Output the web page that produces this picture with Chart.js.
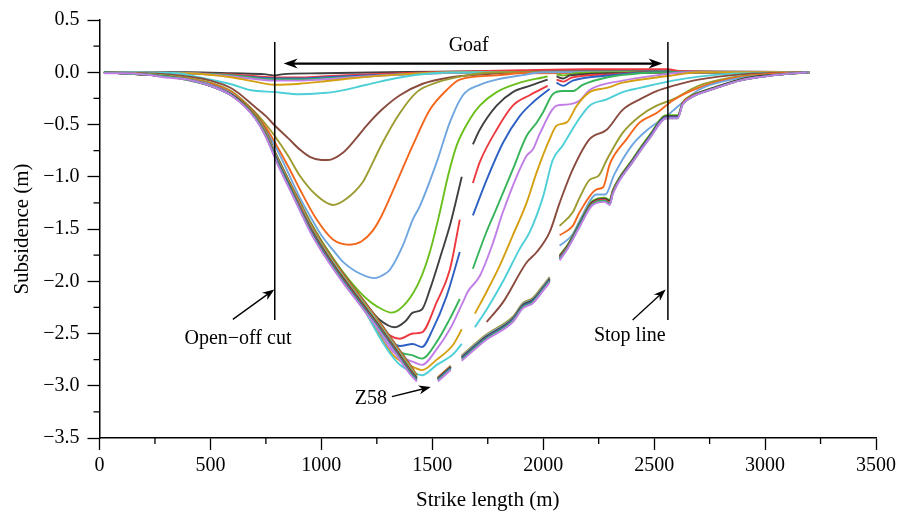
<!DOCTYPE html>
<html>
<head>
<meta charset="utf-8">
<script src="https://cdn.jsdelivr.net/npm/chart.js@4.4.0/dist/chart.umd.min.js"></script>
<style>
  html, body { margin: 0; padding: 0; background: #fff; }
</style>
</head>
<body>
<canvas id="subs" width="900" height="513"></canvas>
<script>
// axis ticks
var xTicks = [0, 500, 1000, 1500, 2000, 2500, 3000, 3500];
var yTicks = [0.5, 0.0, -0.5, -1.0, -1.5, -2.0, -2.5, -3.0, -3.5];

// colour of each profile, in drawing order
var seriesColors = [
  'dgray', 'red', 'blue', 'green', 'violet', 'gold', 'cyan',
  'brown', 'olive', 'orange', 'lblue', 'lime', 'dgray', 'red', 'blue', 'green', 'violet', 'gold', 'cyan',
  'brown', 'olive', 'orange', 'lblue', 'lime', 'dgray', 'red', 'blue', 'green', 'violet'
];

// subsidence profiles [strike length m, subsidence m]; null = missing station
var p01 = [[20,0],[400,0],[600,-0.01],[750,-0.02],[790,-0.03],[820,-0.02],[1000,-0.01],[1300,0],[1800,0.01],[2500,0.01],[3200,0]];
var p02 = [[20,0],[400,-0.01],[600,-0.02],[790,-0.05],[900,-0.05],[1000,-0.04],[1200,-0.02],[1500,0],[1900,0.02],[2200,0.03],[2560,0.03],[2620,0.01],[3200,0]];
var p03 = [[20,0],[400,-0.01],[600,-0.03],[790,-0.06],[900,-0.06],[1000,-0.05],[1200,-0.03],[1500,-0.01],[1800,0],[3200,0]];
var p04 = [[20,0],[400,-0.01],[600,-0.03],[790,-0.07],[900,-0.07],[1000,-0.06],[1200,-0.04],[1500,-0.01],[1800,0],[3200,0]];
var p05 = [[20,0],[400,-0.01],[600,-0.04],[790,-0.08],[900,-0.08],[1000,-0.07],[1200,-0.04],[1500,-0.01],[1800,0],[3200,0]];
var p06 = [[20,0],[400,-0.01],[600,-0.05],[700,-0.09],[790,-0.12],[903,-0.11],[1000,-0.09],[1128,-0.06],[1354,-0.02],[1600,0],[3200,0]];
var p07 = [[20,0],[350,-0.01],[453,-0.05],[602,-0.12],[678,-0.17],[790,-0.19],[903,-0.21],[1000,-0.2],[1052,-0.19],[1204,-0.12],[1354,-0.05],[1500,-0.01],[1700,0],[3200,0]];
var p08 = [[20,0],[300,-0.02],[500,-0.08],[600,-0.16],[700,-0.33],[750,-0.42],[790,-0.51],[850,-0.63],[903,-0.74],[948,-0.81],[1000,-0.84],[1030,-0.84],[1097,-0.77],[1150,-0.65],[1204,-0.51],[1277,-0.35],[1354,-0.22],[1457,-0.11],[1579,-0.05],[1728,-0.02],[1900,0],[3200,0]];
var p09 = [[20,0],[300,-0.03],[500,-0.1],[600,-0.19],[700,-0.38],[750,-0.5],[790,-0.61],[850,-0.8],[903,-0.99],[979,-1.18],[1052,-1.27],[1113,-1.21],[1187,-1.05],[1200,-1.0],[1277,-0.67],[1354,-0.39],[1430,-0.19],[1518,-0.1],[1653,-0.03],[1800,0],[3200,0]];
var p10 = [[20,0],[300,-0.04],[500,-0.11],[600,-0.2],[700,-0.4],[750,-0.53],[790,-0.67],[850,-0.9],[903,-1.12],[979,-1.41],[1052,-1.6],[1128,-1.65],[1180,-1.62],[1230,-1.52],[1270,-1.38],[1340,-1.05],[1412,-0.7],[1489,-0.36],[1565,-0.17],[1624,-0.07],[1790,-0.03],[1900,-0.01],[3200,0]];
var p11 = [[20,0],[300,-0.04],[500,-0.12],[600,-0.21],[700,-0.41],[750,-0.56],[800,-0.74],[850,-0.96],[903,-1.2],[950,-1.38],[1000,-1.56],[1052,-1.7],[1100,-1.82],[1150,-1.9],[1200,-1.95],[1240,-1.97],[1270,-1.95],[1309,-1.89],[1367,-1.66],[1412,-1.41],[1444,-1.28],[1520,-0.86],[1579,-0.48],[1638,-0.22],[1714,-0.12],[1790,-0.07],[1900,-0.03],[2000,0],[3200,0]];
var p12 = [[20,0],[300,-0.04],[500,-0.12],[600,-0.22],[700,-0.42],[750,-0.59],[800,-0.8],[850,-1.02],[900,-1.23],[950,-1.43],[1000,-1.61],[1050,-1.77],[1100,-1.92],[1150,-2.05],[1200,-2.16],[1250,-2.24],[1318,-2.3],[1385,-2.2],[1444,-1.99],[1489,-1.72],[1534,-1.34],[1570,-1.0],[1610,-0.7],[1669,-0.45],[1714,-0.32],[1790,-0.19],[1894,-0.1],[1998,-0.05],[2020,-0.04],[2040,null],[2060,-0.02],[2090,-0.03],[2150,-0.01],[2400,0],[3200,0]];
var p13 = [[20,0],[300,-0.04],[500,-0.12],[600,-0.22],[700,-0.43],[750,-0.6],[800,-0.81],[850,-1.03],[900,-1.25],[950,-1.46],[1000,-1.64],[1050,-1.8],[1100,-1.95],[1150,-2.09],[1200,-2.22],[1264,-2.37],[1331,-2.44],[1380,-2.38],[1412,-2.3],[1453,-2.27],[1489,-2.08],[1543,-1.72],[1579,-1.47],[1633,-1.0],[1655,null],[1683,-0.69],[1714,-0.55],[1790,-0.32],[1863,-0.19],[1939,-0.13],[2020,-0.07],[2040,null],[2060,-0.04],[2090,-0.06],[2120,-0.03],[2300,-0.01],[2500,0],[3200,0]];
var p14 = [[20,0],[300,-0.04],[500,-0.12],[600,-0.22],[700,-0.43],[750,-0.6],[800,-0.82],[850,-1.04],[900,-1.26],[950,-1.47],[1000,-1.65],[1050,-1.81],[1100,-1.97],[1150,-2.11],[1200,-2.25],[1264,-2.43],[1310,-2.52],[1354,-2.55],[1412,-2.5],[1453,-2.49],[1520,-2.2],[1579,-1.89],[1624,-1.41],[1650,null],[1683,-1.06],[1714,-0.86],[1790,-0.55],[1863,-0.32],[1939,-0.22],[2020,-0.13],[2040,null],[2060,-0.07],[2090,-0.09],[2130,-0.05],[2300,-0.02],[2500,0],[3200,0]];
var p15 = [[20,0],[300,-0.04],[500,-0.12],[600,-0.22],[700,-0.43],[750,-0.61],[800,-0.83],[850,-1.05],[900,-1.27],[950,-1.48],[1000,-1.66],[1050,-1.82],[1100,-1.98],[1150,-2.12],[1200,-2.27],[1264,-2.47],[1320,-2.59],[1354,-2.62],[1412,-2.6],[1453,-2.63],[1502,-2.46],[1565,-2.14],[1624,-1.72],[1650,null],[1683,-1.37],[1745,-1.03],[1820,-0.67],[1894,-0.42],[1953,-0.29],[2029,-0.16],[2045,null],[2060,-0.1],[2090,-0.13],[2133,-0.08],[2300,-0.03],[2500,0],[3200,0]];
var p16 = [[20,0],[300,-0.04],[500,-0.13],[600,-0.22],[700,-0.43],[750,-0.61],[800,-0.84],[850,-1.06],[900,-1.28],[950,-1.49],[1000,-1.67],[1050,-1.83],[1100,-1.99],[1150,-2.13],[1200,-2.28],[1264,-2.5],[1320,-2.63],[1354,-2.68],[1412,-2.71],[1453,-2.74],[1520,-2.58],[1579,-2.36],[1624,-2.17],[1650,null],[1683,-1.88],[1740,-1.55],[1790,-1.3],[1863,-0.93],[1925,-0.61],[1971,-0.48],[2000,-0.38],[2043,-0.21],[2088,-0.18],[2133,-0.18],[2178,-0.12],[2286,-0.05],[2435,-0.01],[2600,0],[3200,0]];
var p17 = [[20,0],[300,-0.04],[500,-0.13],[600,-0.22],[700,-0.43],[750,-0.61],[800,-0.84],[850,-1.06],[900,-1.28],[950,-1.49],[1000,-1.68],[1050,-1.84],[1100,-2.0],[1150,-2.14],[1200,-2.29],[1264,-2.52],[1320,-2.67],[1354,-2.72],[1412,-2.77],[1453,-2.8],[1520,-2.65],[1579,-2.46],[1638,-2.2],[1660,-2.1],[1714,-1.95],[1774,-1.63],[1818,-1.34],[1925,-0.8],[1953,-0.74],[1984,-0.59],[2061,-0.32],[2104,-0.31],[2164,-0.27],[2209,-0.17],[2358,-0.08],[2511,-0.03],[2650,0],[3200,0]];
var p18 = [[20,0],[300,-0.04],[500,-0.13],[600,-0.22],[700,-0.43],[750,-0.61],[800,-0.85],[850,-1.07],[900,-1.29],[950,-1.5],[1000,-1.68],[1050,-1.84],[1100,-2.0],[1150,-2.15],[1200,-2.3],[1264,-2.53],[1320,-2.7],[1354,-2.76],[1412,-2.82],[1453,-2.85],[1520,-2.75],[1593,-2.61],[1633,-2.46],[1660,null],[1692,-2.31],[1745,-2.1],[1804,-1.85],[1863,-1.56],[1925,-1.25],[1970,-0.96],[2029,-0.64],[2061,-0.51],[2106,-0.48],[2151,-0.32],[2209,-0.19],[2286,-0.15],[2358,-0.1],[2511,-0.05],[2584,-0.03],[2700,0],[3200,0]];
var p19 = [[20,0],[300,-0.04],[500,-0.13],[600,-0.22],[700,-0.43],[750,-0.61],[800,-0.85],[850,-1.07],[900,-1.29],[950,-1.5],[1000,-1.69],[1050,-1.85],[1100,-2.01],[1150,-2.15],[1200,-2.3],[1264,-2.54],[1320,-2.72],[1354,-2.8],[1412,-2.87],[1453,-2.9],[1520,-2.8],[1593,-2.7],[1633,-2.6],[1660,null],[1692,-2.44],[1745,-2.27],[1819,-2.0],[1894,-1.69],[1939,-1.53],[1998,-1.2],[2043,-0.84],[2088,-0.7],[2151,-0.48],[2209,-0.32],[2286,-0.26],[2358,-0.19],[2435,-0.15],[2584,-0.08],[2800,-0.02],[3200,0]];
var p20 = [[20,0],[100,-0.01],[200,-0.02],[300,-0.04],[400,-0.07],[500,-0.12],[600,-0.22],[700,-0.39],[750,-0.56],[800,-0.81],[850,-1.02],[900,-1.23],[950,-1.44],[1000,-1.62],[1050,-1.78],[1100,-1.93],[1150,-2.07],[1200,-2.21],[1250,-2.35],[1300,-2.5],[1350,-2.65],[1400,-2.8],[1430,-2.9],[1460,null],[1745,-2.39],[1819,-2.2],[1925,-1.82],[1971,-1.72],[2029,-1.53],[2074,-1.25],[2133,-0.93],[2209,-0.64],[2286,-0.55],[2358,-0.36],[2435,-0.26],[2511,-0.18],[2584,-0.13],[2700,-0.07],[2900,-0.02],[3200,0]];
var p21 = [[20,0],[100,-0.01],[200,-0.02],[300,-0.04],[400,-0.07],[500,-0.12],[600,-0.22],[700,-0.4],[750,-0.57],[800,-0.82],[850,-1.03],[900,-1.24],[950,-1.45],[1000,-1.63],[1050,-1.79],[1100,-1.94],[1150,-2.08],[1200,-2.22],[1250,-2.36],[1300,-2.51],[1350,-2.66],[1400,-2.81],[1430,-2.9],[1460,null],[1525,-2.92],[1583,-2.81],[1610,null],[1633,-2.71],[1714,-2.56],[1744,-2.51],[1863,-2.34],[1908,-2.21],[1953,-2.16],[2000,-2.04],[2029,-1.96],[2050,null],[2074,-1.47],[2133,-1.34],[2164,-1.2],[2209,-1.03],[2250,-0.99],[2286,-0.84],[2358,-0.58],[2435,-0.42],[2511,-0.32],[2584,-0.26],[2700,-0.13],[2850,-0.05],[3000,-0.02],[3200,0]];
var p22 = [[20,0],[100,-0.01],[200,-0.02],[300,-0.04],[400,-0.07],[500,-0.12],[600,-0.22],[700,-0.4],[750,-0.58],[800,-0.83],[850,-1.04],[900,-1.25],[950,-1.46],[1000,-1.64],[1050,-1.8],[1100,-1.95],[1150,-2.09],[1200,-2.23],[1250,-2.37],[1300,-2.52],[1350,-2.67],[1400,-2.82],[1430,-2.91],[1460,null],[1525,-2.92],[1583,-2.81],[1610,null],[1633,-2.72],[1714,-2.57],[1744,-2.52],[1863,-2.35],[1908,-2.22],[1953,-2.17],[2000,-2.05],[2029,-1.97],[2050,null],[2074,-1.56],[2133,-1.47],[2164,-1.34],[2241,-1.12],[2270,-1.1],[2300,-0.88],[2376,-0.64],[2435,-0.48],[2511,-0.39],[2584,-0.27],[2700,-0.15],[2850,-0.06],[3000,-0.02],[3200,0]];
var p23 = [[20,0],[100,-0.01],[200,-0.02],[300,-0.04],[400,-0.07],[500,-0.12],[600,-0.22],[700,-0.41],[750,-0.58],[800,-0.83],[850,-1.05],[900,-1.26],[950,-1.47],[1000,-1.65],[1050,-1.81],[1100,-1.96],[1150,-2.1],[1200,-2.24],[1250,-2.38],[1300,-2.53],[1350,-2.68],[1400,-2.83],[1430,-2.92],[1460,null],[1525,-2.93],[1583,-2.82],[1610,null],[1633,-2.72],[1714,-2.57],[1744,-2.52],[1863,-2.35],[1908,-2.22],[1953,-2.17],[2000,-2.05],[2029,-1.97],[2050,null],[2074,-1.66],[2133,-1.55],[2164,-1.42],[2241,-1.17],[2280,-1.17],[2320,-0.98],[2400,-0.7],[2470,-0.55],[2556,-0.42],[2600,-0.34],[2700,-0.17],[2850,-0.07],[3000,-0.03],[3200,0]];
var p24 = [[20,0],[100,-0.01],[200,-0.02],[300,-0.04],[400,-0.07],[500,-0.13],[600,-0.22],[700,-0.41],[750,-0.59],[800,-0.84],[850,-1.05],[900,-1.27],[950,-1.48],[1000,-1.66],[1050,-1.82],[1100,-1.97],[1150,-2.11],[1200,-2.25],[1250,-2.39],[1300,-2.54],[1350,-2.69],[1400,-2.84],[1430,-2.92],[1460,null],[1525,-2.93],[1583,-2.82],[1610,null],[1633,-2.73],[1714,-2.58],[1744,-2.53],[1863,-2.36],[1908,-2.23],[1953,-2.18],[2000,-2.06],[2029,-1.98],[2050,null],[2074,-1.75],[2110,-1.65],[2164,-1.44],[2223,-1.23],[2277,-1.2],[2300,-1.22],[2313,-1.13],[2403,-0.83],[2480,-0.6],[2556,-0.41],[2606,-0.41],[2628,-0.29],[2660,-0.23],[2736,-0.17],[2808,-0.12],[2885,-0.07],[2960,-0.04],[3078,-0.02],[3190,0]];
var p25 = [[20,0],[100,-0.01],[200,-0.02],[300,-0.04],[400,-0.07],[500,-0.13],[600,-0.22],[700,-0.42],[750,-0.6],[800,-0.84],[850,-1.06],[900,-1.28],[950,-1.49],[1000,-1.67],[1050,-1.83],[1100,-1.98],[1150,-2.12],[1200,-2.26],[1250,-2.4],[1300,-2.55],[1350,-2.7],[1400,-2.85],[1430,-2.93],[1460,null],[1525,-2.93],[1583,-2.82],[1610,null],[1633,-2.73],[1714,-2.58],[1744,-2.53],[1863,-2.36],[1908,-2.23],[1953,-2.18],[2000,-2.06],[2029,-1.98],[2050,null],[2074,-1.76],[2110,-1.66],[2164,-1.45],[2223,-1.24],[2277,-1.21],[2300,-1.23],[2313,-1.14],[2403,-0.84],[2480,-0.61],[2556,-0.42],[2606,-0.42],[2628,-0.3],[2660,-0.24],[2736,-0.17],[2808,-0.12],[2885,-0.07],[2960,-0.04],[3078,-0.02],[3190,0]];
var p26 = [[20,0],[100,-0.01],[200,-0.02],[300,-0.04],[400,-0.07],[500,-0.13],[600,-0.23],[700,-0.42],[750,-0.6],[800,-0.85],[850,-1.07],[900,-1.28],[950,-1.5],[1000,-1.68],[1050,-1.84],[1100,-1.99],[1150,-2.13],[1200,-2.27],[1250,-2.41],[1300,-2.56],[1350,-2.71],[1400,-2.86],[1430,-2.94],[1460,null],[1525,-2.94],[1583,-2.83],[1610,null],[1633,-2.74],[1714,-2.59],[1744,-2.54],[1863,-2.37],[1908,-2.24],[1953,-2.19],[2000,-2.07],[2029,-1.99],[2050,null],[2074,-1.77],[2110,-1.67],[2164,-1.46],[2223,-1.25],[2277,-1.22],[2300,-1.25],[2313,-1.15],[2403,-0.85],[2480,-0.62],[2556,-0.43],[2606,-0.43],[2628,-0.3],[2660,-0.24],[2736,-0.18],[2808,-0.13],[2885,-0.08],[2960,-0.05],[3078,-0.02],[3190,0]];
var p27 = [[20,0],[100,-0.01],[200,-0.02],[300,-0.04],[400,-0.07],[500,-0.13],[600,-0.23],[700,-0.43],[750,-0.61],[800,-0.85],[850,-1.07],[900,-1.29],[950,-1.51],[1000,-1.69],[1050,-1.85],[1100,-2.0],[1150,-2.14],[1200,-2.28],[1250,-2.42],[1300,-2.57],[1350,-2.72],[1400,-2.87],[1430,-2.94],[1460,null],[1525,-2.94],[1583,-2.83],[1610,null],[1633,-2.74],[1714,-2.59],[1744,-2.54],[1863,-2.37],[1908,-2.24],[1953,-2.19],[2000,-2.07],[2029,-1.99],[2050,null],[2074,-1.78],[2110,-1.68],[2164,-1.46],[2223,-1.26],[2277,-1.23],[2300,-1.26],[2313,-1.16],[2403,-0.85],[2480,-0.62],[2556,-0.43],[2606,-0.43],[2628,-0.31],[2660,-0.25],[2736,-0.18],[2808,-0.13],[2885,-0.08],[2960,-0.05],[3078,-0.02],[3190,0]];
var p28 = [[20,0],[100,-0.01],[200,-0.02],[300,-0.04],[400,-0.07],[500,-0.13],[600,-0.23],[700,-0.43],[750,-0.61],[800,-0.86],[850,-1.08],[900,-1.3],[950,-1.52],[1000,-1.7],[1050,-1.86],[1100,-2.01],[1150,-2.15],[1200,-2.29],[1250,-2.43],[1300,-2.58],[1350,-2.73],[1400,-2.88],[1430,-2.95],[1460,null],[1525,-2.95],[1583,-2.84],[1610,null],[1633,-2.75],[1714,-2.6],[1744,-2.55],[1863,-2.38],[1908,-2.25],[1953,-2.2],[2000,-2.08],[2029,-2.0],[2050,null],[2074,-1.79],[2110,-1.68],[2164,-1.47],[2223,-1.26],[2277,-1.23],[2300,-1.26],[2313,-1.16],[2403,-0.86],[2480,-0.63],[2556,-0.44],[2606,-0.44],[2628,-0.31],[2660,-0.25],[2736,-0.18],[2808,-0.13],[2885,-0.08],[2960,-0.05],[3078,-0.02],[3190,0]];
var p29 = [[20,-0.01],[100,-0.01],[200,-0.02],[300,-0.05],[400,-0.07],[500,-0.13],[600,-0.23],[700,-0.44],[750,-0.62],[800,-0.87],[850,-1.09],[900,-1.31],[950,-1.53],[1000,-1.71],[1050,-1.87],[1100,-2.02],[1150,-2.16],[1200,-2.3],[1250,-2.44],[1300,-2.59],[1350,-2.74],[1400,-2.89],[1430,-2.96],[1460,null],[1525,-2.96],[1583,-2.85],[1610,null],[1633,-2.76],[1714,-2.61],[1744,-2.56],[1863,-2.39],[1908,-2.26],[1953,-2.21],[2000,-2.09],[2029,-2.01],[2050,null],[2074,-1.8],[2110,-1.69],[2164,-1.48],[2223,-1.27],[2277,-1.24],[2300,-1.27],[2313,-1.17],[2403,-0.86],[2480,-0.63],[2556,-0.44],[2606,-0.44],[2628,-0.31],[2660,-0.25],[2736,-0.18],[2808,-0.13],[2885,-0.08],[2960,-0.05],[3078,-0.02],[3190,0]];

var profiles = [p01,p02,p03,p04,p05,p06,p07,p08,p09,p10,p11,p12,p13,p14,p15,p16,p17,p18,p19,p20,p21,p22,p23,p24,p25,p26,p27,p28,p29];

var palette = {
  brown: '#8a4b3f', olive: '#9c9b30', orange: '#f4661b', lblue: '#6fa6df',
  lime: '#6bbf1c', dgray: '#404040', red: '#ec3a40', blue: '#2e60c4',
  green: '#37b45a', violet: '#c17ee6', gold: '#d4a011', cyan: '#4ccfd6'
};

var SERIF = '"Liberation Serif", "DejaVu Serif", serif';

var datasets = profiles.map(function (p, i) {
  return {
    label: 'P' + (i + 1),
    data: p.map(function (q) { return { x: q[0], y: q[1] }; }),
    borderColor: palette[seriesColors[i]],
    borderWidth: 1.9,
    pointRadius: 0,
    fill: false,
    spanGaps: false,
    cubicInterpolationMode: 'monotone',
    order: profiles.length - i
  };
});

function minus(v) {
  return (v < 0 ? '\u2212' : '') + Math.abs(v).toFixed(1);
}

// arrows, face lines, labels and minor ticks
var annotate = {
  id: 'annotate',
  afterDraw: function (chart) {
    var ctx = chart.ctx, xs = chart.scales.x, ys = chart.scales.y;
    var X = function (v) { return xs.getPixelForValue(v); };
    var Y = function (v) { return ys.getPixelForValue(v); };
    ctx.save();
    ctx.strokeStyle = '#000';
    ctx.fillStyle = '#000';

    function head(x1, y1, x2, y2, len, wid) {
      var a = Math.atan2(y2 - y1, x2 - x1);
      ctx.beginPath();
      ctx.moveTo(x2, y2);
      ctx.lineTo(x2 - len * Math.cos(a) + wid * Math.sin(a), y2 - len * Math.sin(a) - wid * Math.cos(a));
      ctx.lineTo(x2 - len * 0.7 * Math.cos(a), y2 - len * 0.7 * Math.sin(a));
      ctx.lineTo(x2 - len * Math.cos(a) - wid * Math.sin(a), y2 - len * Math.sin(a) + wid * Math.cos(a));
      ctx.closePath();
      ctx.fill();
    }
    function arrow(x1, y1, x2, y2, lw, len, wid) {
      var a = Math.atan2(y2 - y1, x2 - x1);
      ctx.lineWidth = lw;
      ctx.beginPath();
      ctx.moveTo(x1, y1);
      ctx.lineTo(x2 - len * 0.6 * Math.cos(a), y2 - len * 0.6 * Math.sin(a));
      ctx.stroke();
      head(x1, y1, x2, y2, len, wid);
    }

    // open-off cut and stop line
    ctx.lineWidth = 1.5;
    [790, 2562].forEach(function (v) {
      ctx.beginPath();
      ctx.moveTo(X(v), Y(0.29));
      ctx.lineTo(X(v), Y(-2.37));
      ctx.stroke();
    });

    // goaf double arrow
    var gy = Y(0.083);
    ctx.lineWidth = 2.2;
    ctx.beginPath();
    ctx.moveTo(X(830) + 8, gy);
    ctx.lineTo(X(2538) - 8, gy);
    ctx.stroke();
    head(X(2538) - 20, gy, X(2538), gy, 14, 5);
    head(X(830) + 20, gy, X(830), gy, 14, 5);

    arrow(X(601), Y(-2.365), X(788), Y(-2.078), 1.3, 12, 4.5);
    arrow(X(2403), Y(-2.37), X(2552), Y(-2.08), 1.3, 12, 4.5);
    arrow(X(1318), Y(-3.105), X(1493), Y(-3.012), 1.3, 12, 4.5);

    ctx.font = '20px ' + SERIF;
    ctx.textAlign = 'center';
    ctx.textBaseline = 'middle';
    ctx.fillText('Goaf', X(1664), Y(0.255));
    ctx.fillText('Open\u2212off cut', X(624), Y(-2.55));
    ctx.fillText('Stop line', X(2390), Y(-2.525));
    ctx.fillText('Z58', X(1223), Y(-3.12));

    // minor ticks
    ctx.lineWidth = 1.3;
    var bottom = ys.getPixelForValue(-3.5), left = xs.getPixelForValue(0);
    for (var i = 0; i < xTicks.length - 1; i++) {
      var mx = X((xTicks[i] + xTicks[i + 1]) / 2);
      ctx.beginPath(); ctx.moveTo(mx, bottom); ctx.lineTo(mx, bottom + 6); ctx.stroke();
    }
    for (var j = 0; j < yTicks.length - 1; j++) {
      var my = Y((yTicks[j] + yTicks[j + 1]) / 2);
      ctx.beginPath(); ctx.moveTo(left, my); ctx.lineTo(left - 6, my); ctx.stroke();
    }
    ctx.restore();
  }
};

new Chart(document.getElementById('subs').getContext('2d'), {
  type: 'line',
  data: { datasets: datasets },
  plugins: [annotate],
  options: {
    responsive: false,
    animation: false,
    layout: { padding: { top: 14, right: 23, left: 0, bottom: 0 } },
    plugins: { legend: { display: false }, tooltip: { enabled: false } },
    scales: {
      x: {
        type: 'linear',
        min: 0, max: 3500,
        afterBuildTicks: function (s) { s.ticks = xTicks.map(function (v) { return { value: v }; }); },
        afterFit: function (s) { s.height = 75; },
        ticks: { color: '#000', font: { family: SERIF, size: 20 }, padding: 4, maxRotation: 0, callback: function (v) { return String(v); } },
        grid: { display: true, drawOnChartArea: false, drawTicks: true, tickLength: 12, tickColor: '#000', tickWidth: 1.3 },
        border: { display: true, color: '#000', width: 1.5 },
        title: { display: true, text: 'Strike length (m)', color: '#000', font: { family: SERIF, size: 21 }, padding: { top: 9, bottom: 0 } }
      },
      y: {
        type: 'linear',
        min: -3.5, max: 0.5,
        afterBuildTicks: function (s) { s.ticks = yTicks.slice().reverse().map(function (v) { return { value: v }; }); },
        afterFit: function (s) { s.width = 99.5; },
        ticks: { color: '#000', font: { family: SERIF, size: 20 }, padding: 8, callback: function (v) { return minus(v); } },
        grid: { display: true, drawOnChartArea: false, drawTicks: true, tickLength: 12, tickColor: '#000', tickWidth: 1.3 },
        border: { display: true, color: '#000', width: 1.5 },
        title: { display: true, text: 'Subsidence (m)', color: '#000', font: { family: SERIF, size: 21 }, padding: { top: 10, bottom: 0 } }
      }
    }
  }
});
</script>
</body>
</html>
